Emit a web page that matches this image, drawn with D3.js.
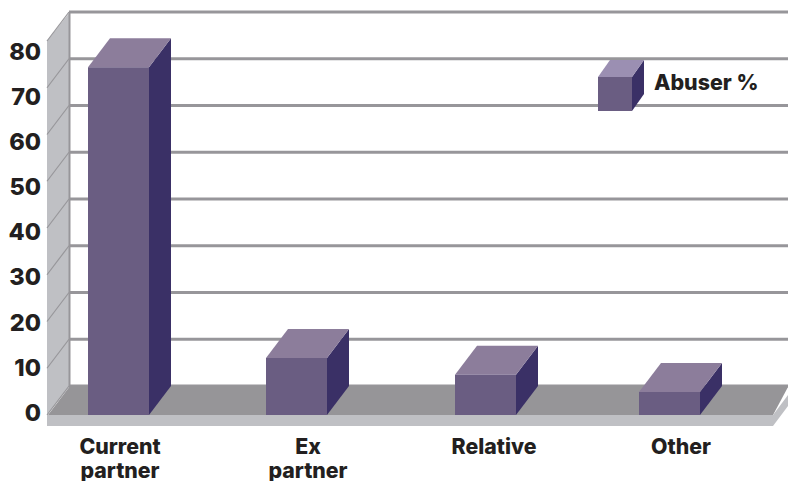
<!DOCTYPE html>
<html lang="en">
<head>
  <meta charset="UTF-8" />
  <title>Abuser %</title>
  <script src="https://d3js.org/d3.v7.min.js"></script>
  <style>
    html, body { margin: 0; padding: 0; background: #fff; overflow: hidden; }
    svg { display: block; }
    text { font-family: Inter, "Open Sans", sans-serif; font-weight: 800; fill: #231f20; }
  </style>
</head>
<body>
  <svg width="788" height="481"></svg>
  <script>
    // data
    const categories = ["Current partner", "Ex partner", "Relative", "Other"];
    const abuserPct = [74.4, 12.2, 8.6, 4.9];
    const yTicks = [0, 10, 20, 30, 40, 50, 60, 70, 80];
    const legendLabel = "Abuser %";

    const svg = d3.select("svg");

    // 3d offset of the back plane
    const dx = 22, dy = -29;
    const barW = 61;

    const y = d3.scaleLinear().domain([0, 80]).range([415, 41]);
    const labelY = d3.scaleLinear().domain([0, 80]).range([411, 50]);
    const x = d3.scaleOrdinal().domain(categories).range([88, 266, 455, 639]);
    const labelX = d3.scaleOrdinal().domain(categories).range([120, 308, 494, 681]);

    const poly = (pts, fill) => svg.append("polygon")
      .attr("points", pts.map(p => p.join(",")).join(" "))
      .attr("fill", fill);

    // left wall
    const wallX = 47;
    poly([[wallX, y(0)], [wallX, y(80)], [wallX + dx + 1, y(80) + dy], [wallX + dx + 1, y(0) + dy]], "#bfc0c4");

    // gridlines on back wall + the thin diagonals on the left wall
    yTicks.forEach(t => {
      svg.append("line")
        .attr("x1", wallX + dx).attr("x2", 788)
        .attr("y1", y(t) + dy).attr("y2", y(t) + dy)
        .attr("stroke", "#97969a").attr("stroke-width", 3);
      svg.append("line")
        .attr("x1", wallX).attr("x2", wallX + dx)
        .attr("y1", y(t)).attr("y2", y(t) + dy)
        .attr("stroke", "#97969a").attr("stroke-width", 1.2);
    });
    svg.append("line")
      .attr("x1", wallX + dx + 0.5).attr("x2", wallX + dx + 0.5)
      .attr("y1", y(80) + dy).attr("y2", y(0) + dy)
      .attr("stroke", "#97969a").attr("stroke-width", 2);

    // floor
    poly([[wallX + 1, y(0)], [wallX + dx + 1, y(0) + dy], [788, y(0) + dy], [788, 387], [773, y(0)]], "#969598");
    poly([[wallX, y(0)], [773, y(0)], [773, 426], [wallX, 426]], "#bfc0c4");
    poly([[773, y(0)], [788, 395], [788, 406], [773, 426]], "#bfc0c4");

    // one cuboid
    function box(x0, top, bottom, w, ddx, ddy, topFill) {
      poly([[x0 + w, top], [x0 + w + ddx, top + ddy], [x0 + w + ddx, bottom + ddy], [x0 + w, bottom]], "#3a3066");
      poly([[x0, top], [x0 + ddx, top + ddy], [x0 + w + ddx, top + ddy], [x0 + w, top]], topFill);
      poly([[x0, top], [x0 + w, top], [x0 + w, bottom], [x0, bottom]], "#6a5d82");
    }

    categories.forEach((c, i) => {
      box(x(c), y(abuserPct[i]), y(0), barW, dx, dy, "#8c7d9b");
    });

    // y labels
    svg.selectAll(".tick-label").data(yTicks).join("text")
      .attr("class", "tick-label")
      .attr("x", 41)
      .attr("y", d => labelY(d))
      .attr("dy", "0.42em")
      .attr("text-anchor", "end")
      .attr("font-size", 23.5)
      .text(d => d);

    // category labels, wrapped on the space
    categories.forEach(c => {
      c.split(" ").forEach((word, j) => {
        svg.append("text")
          .attr("x", labelX(c))
          .attr("y", 454 + j * 23.5)
          .attr("text-anchor", "middle")
          .attr("font-size", 21.3)
          .text(word);
      });
    });

    // legend
    box(598, 77, 111, 34, 12, -17, "#9b8fb2");
    svg.append("text")
      .attr("x", 654).attr("y", 90)
      .attr("font-size", 21.4)
      .text(legendLabel);
  </script>
</body>
</html>
